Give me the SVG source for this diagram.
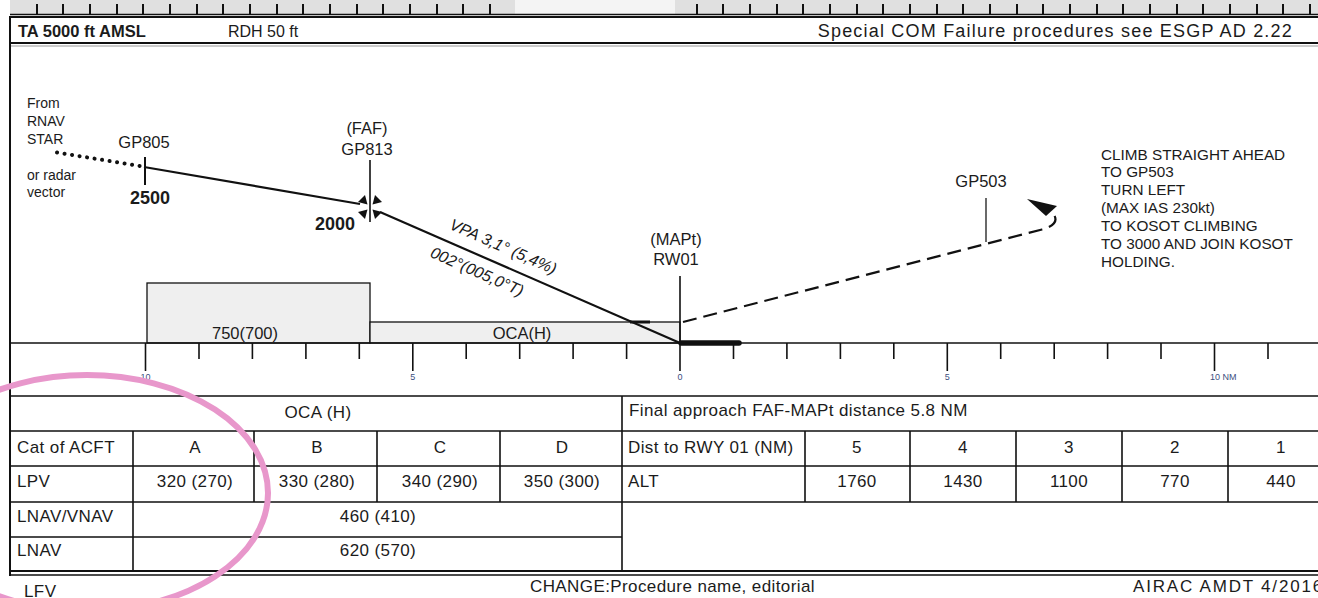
<svg xmlns="http://www.w3.org/2000/svg" width="1318" height="598" viewBox="0 0 1318 598">
<style>
text{font-family:"Liberation Sans",Arial,sans-serif;fill:#1b1b1b}
.hd{font-size:16px}
.b{font-weight:bold}
.pl{font-size:16.5px}
.sm{font-size:14px}
.rt{font-size:15.3px}
.it{font-size:16px;font-style:italic}
.sc{font-size:9px;fill:#3d4f80}
.tb{font-size:17px;letter-spacing:0.4px}
.ln{stroke:#111;fill:none}
.grid{stroke:#111;stroke-width:1.6;fill:none}
.ocabox{fill:#efefef;stroke:#111;stroke-width:1.3}
.tick{stroke:#111;stroke-width:1.6}
</style>
<rect width="1318" height="598" fill="#fff"/>

<!-- top tick strip -->
<g id="topstrip">
<rect x="10" y="0" width="1308" height="14" fill="#e0e0e0"/>
<rect x="515" y="0" width="160" height="14" fill="#f4f4f4"/>
<line x1="10" y1="14.5" x2="1318" y2="14.5" class="ln" stroke-width="1.5"/>
<path class="ln" stroke-width="2" d="M37,4V14 M63,4V14 M90,4V14 M117,4V14 M143,4V14 M170,4V14 M197,4V14 M223,4V14 M250,4V14 M277,4V14 M303,4V14 M330,4V14 M357,4V14 M383,4V14 M410,4V14 M437,4V14 M463,4V14 M490,4V14 M697,4V14 M723,4V14 M750,4V14 M777,4V14 M803,4V14 M830,4V14 M857,4V14 M883,4V14 M910,4V14 M937,4V14 M963,4V14 M990,4V14 M1017,4V14 M1043,4V14 M1070,4V14 M1097,4V14 M1123,4V14 M1150,4V14 M1177,4V14 M1203,4V14 M1230,4V14 M1257,4V14 M1283,4V14 M1310,4V14"/>
</g>

<!-- frame and header -->
<g id="header">
<line x1="10" y1="17" x2="1318" y2="17" class="ln" stroke-width="2"/>
<line x1="10" y1="43" x2="1318" y2="43" class="ln" stroke-width="2.2"/>
<line x1="10" y1="46" x2="1318" y2="46" stroke="#999" stroke-width="1"/>
<line x1="10" y1="16" x2="10" y2="576" class="ln" stroke-width="2"/>
<text x="18" y="37" class="hd b" style="font-size:16.5px">TA 5000 ft AMSL</text>
<text x="228" y="37" class="hd">RDH 50 ft</text>
<text x="1293" y="37" class="hd" style="font-size:18px;letter-spacing:1.2px" text-anchor="end">Special COM Failure procedures see ESGP AD 2.22</text>
</g>

<!-- obstacle clearance boxes -->
<g id="oca-boxes">
<rect x="147" y="283" width="223" height="60" class="ocabox"/>
<rect x="370" y="322" width="310" height="21" class="ocabox"/>
<text x="245" y="339" class="pl" text-anchor="middle">750(700)</text>
<text x="522" y="339" class="pl" text-anchor="middle">OCA(H)</text>
</g>

<!-- connectors -->
<g id="connectors">
<line x1="57" y1="152.5" x2="140" y2="166" stroke="#111" stroke-width="4" stroke-linecap="round" stroke-dasharray="0.1 7.5"/>
<line x1="144" y1="167" x2="360" y2="204" class="ln" stroke-width="2.2"/>
<line x1="380" y1="212" x2="680" y2="343" class="ln" stroke-width="2.2"/>
<line x1="630" y1="322" x2="650" y2="322" class="ln" stroke-width="3"/>
<path d="M683,322 L1042,229.5 C1056,226 1059,218 1051,212" class="ln" stroke-width="2.2" stroke-dasharray="14 7"/>
<polygon points="1027,199 1057,206 1046,216" fill="#111"/>
</g>

<!-- inbound annotation -->
<g id="inbound-label">
<text x="27" y="108" class="sm">From</text>
<text x="27" y="126" class="sm">RNAV</text>
<text x="27" y="144" class="sm">STAR</text>
<text x="27" y="180" class="sm">or radar</text>
<text x="27" y="197" class="sm">vector</text>
</g>

<!-- GP805 -->
<g id="gp805">
<line x1="145" y1="157" x2="145" y2="185" class="ln" stroke-width="2"/>
<text x="144" y="148" class="pl" text-anchor="middle">GP805</text>
<text x="150" y="204" class="pl b" style="font-size:18px" text-anchor="middle">2500</text>
</g>

<!-- FAF GP813 -->
<g id="faf-gp813">
<line x1="370" y1="160" x2="370" y2="222" class="ln" stroke-width="1.6"/>
<g transform="translate(370,207)" fill="#111">
<polygon points="2.5,-2.5 12,-5 5,-12"/>
<polygon points="-2.5,-2.5 -12,-5 -5,-12"/>
<polygon points="2.5,2.5 12,5 5,12"/>
<polygon points="-2.5,2.5 -12,5 -5,12"/>
</g>
<text x="367" y="134" class="pl" text-anchor="middle">(FAF)</text>
<text x="367" y="155" class="pl" text-anchor="middle">GP813</text>
<text x="335" y="230" class="pl b" style="font-size:18px" text-anchor="middle">2000</text>
</g>

<!-- final approach labels -->
<g id="final-labels">
<text class="it" text-anchor="middle" transform="translate(503,247) rotate(23.7)" y="5">VPA 3,1° (5,4%)</text>
<text class="it" text-anchor="middle" transform="translate(477,272) rotate(23.7)" y="5">002°(005,0°T)</text>
</g>

<!-- MAPt RW01 -->
<g id="mapt-rw01">
<line x1="680" y1="276" x2="680" y2="343" class="ln" stroke-width="1.6"/>
<line x1="681" y1="343" x2="739" y2="343" stroke="#111" stroke-width="5.5" stroke-linecap="round"/>
<text x="676" y="245" class="pl" text-anchor="middle">(MAPt)</text>
<text x="676" y="265" class="pl" text-anchor="middle">RW01</text>
</g>

<!-- GP503 -->
<g id="gp503">
<line x1="986" y1="198" x2="986" y2="242" stroke="#444" stroke-width="1.6"/>
<text x="981" y="187" class="pl" text-anchor="middle">GP503</text>
</g>

<!-- missed approach text -->
<g id="missed-text">
<text x="1101" y="160" class="rt">CLIMB STRAIGHT AHEAD</text>
<text x="1101" y="177" class="rt">TO GP503</text>
<text x="1101" y="195" class="rt">TURN LEFT</text>
<text x="1101" y="213" class="rt">(MAX IAS 230kt)</text>
<text x="1101" y="231" class="rt">TO KOSOT CLIMBING</text>
<text x="1101" y="249" class="rt">TO 3000 AND JOIN KOSOT</text>
<text x="1101" y="267" class="rt">HOLDING.</text>
</g>

<!-- distance scale -->
<g id="scale">
<line x1="10" y1="343" x2="1318" y2="343" class="ln" stroke-width="1.6"/>
<path class="tick" d="M199,343V359 M252.4,343V359 M305.9,343V359 M359.3,343V359 M466.2,343V359 M519.7,343V359 M573.1,343V359 M626.6,343V359 M733.5,343V359 M786.9,343V359 M840.4,343V359 M893.8,343V359 M1000.7,343V359 M1054.2,343V359 M1107.6,343V359 M1161,343V359 M1268,343V359"/>
<path class="tick" d="M145.5,343V371 M412.8,343V371 M680,343V371 M947.3,343V371 M1214.5,343V371"/>
<text x="145.5" y="380" class="sc" text-anchor="middle">10</text>
<text x="412.8" y="380" class="sc" text-anchor="middle">5</text>
<text x="680" y="380" class="sc" text-anchor="middle">0</text>
<text x="947.3" y="380" class="sc" text-anchor="middle">5</text>
<text x="1210" y="380" class="sc">10 NM</text>
</g>

<!-- minima table -->
<g id="oca-table">
<path class="grid" d="M10,396H1318 M10,431H1318 M10,466H1318 M10,502H1318 M10,537H622 M622,396V571 M133,431V571 M254,431V502 M377,431V502 M500,431V502 M805,431V502 M910,431V502 M1016,431V502 M1122,431V502 M1228,431V502"/>
<line x1="10" y1="571" x2="1318" y2="571" class="ln" stroke-width="2"/>
<line x1="10" y1="575" x2="1318" y2="575" class="ln" stroke-width="1.4"/>
<text x="318" y="418" class="tb" text-anchor="middle">OCA (H)</text>
<text x="17" y="453" class="tb">Cat of ACFT</text>
<text x="195" y="453" class="tb" text-anchor="middle">A</text>
<text x="317" y="453" class="tb" text-anchor="middle">B</text>
<text x="440" y="453" class="tb" text-anchor="middle">C</text>
<text x="562" y="453" class="tb" text-anchor="middle">D</text>
<text x="17" y="487" class="tb">LPV</text>
<text x="195" y="487" class="tb" text-anchor="middle">320 (270)</text>
<text x="317" y="487" class="tb" text-anchor="middle">330 (280)</text>
<text x="440" y="487" class="tb" text-anchor="middle">340 (290)</text>
<text x="562" y="487" class="tb" text-anchor="middle">350 (300)</text>
<text x="17" y="522" class="tb">LNAV/VNAV</text>
<text x="378" y="522" class="tb" text-anchor="middle">460 (410)</text>
<text x="17" y="556" class="tb">LNAV</text>
<text x="378" y="556" class="tb" text-anchor="middle">620 (570)</text>
</g>

<g id="dist-table">
<text x="629" y="416" class="tb">Final approach FAF-MAPt distance 5.8 NM</text>
<text x="628" y="453" class="tb">Dist to RWY 01 (NM)</text>
<text x="857" y="453" class="tb" text-anchor="middle">5</text>
<text x="963" y="453" class="tb" text-anchor="middle">4</text>
<text x="1069" y="453" class="tb" text-anchor="middle">3</text>
<text x="1175" y="453" class="tb" text-anchor="middle">2</text>
<text x="1281" y="453" class="tb" text-anchor="middle">1</text>
<text x="628" y="487" class="tb">ALT</text>
<text x="857" y="487" class="tb" text-anchor="middle">1760</text>
<text x="963" y="487" class="tb" text-anchor="middle">1430</text>
<text x="1069" y="487" class="tb" text-anchor="middle">1100</text>
<text x="1175" y="487" class="tb" text-anchor="middle">770</text>
<text x="1281" y="487" class="tb" text-anchor="middle">440</text>
</g>

<!-- footer -->
<g id="footer">
<text x="24" y="597" class="tb">LFV</text>
<text x="530" y="592" class="tb">CHANGE:Procedure name, editorial</text>
<text x="1133" y="592" class="tb" style="letter-spacing:1.8px">AIRAC AMDT 4/2016</text>
</g>

<!-- highlight annotation -->
<g id="highlight">
<ellipse cx="87" cy="493" rx="181" ry="118" fill="none" stroke="#e897cb" stroke-width="6"/>
</g>
</svg>
